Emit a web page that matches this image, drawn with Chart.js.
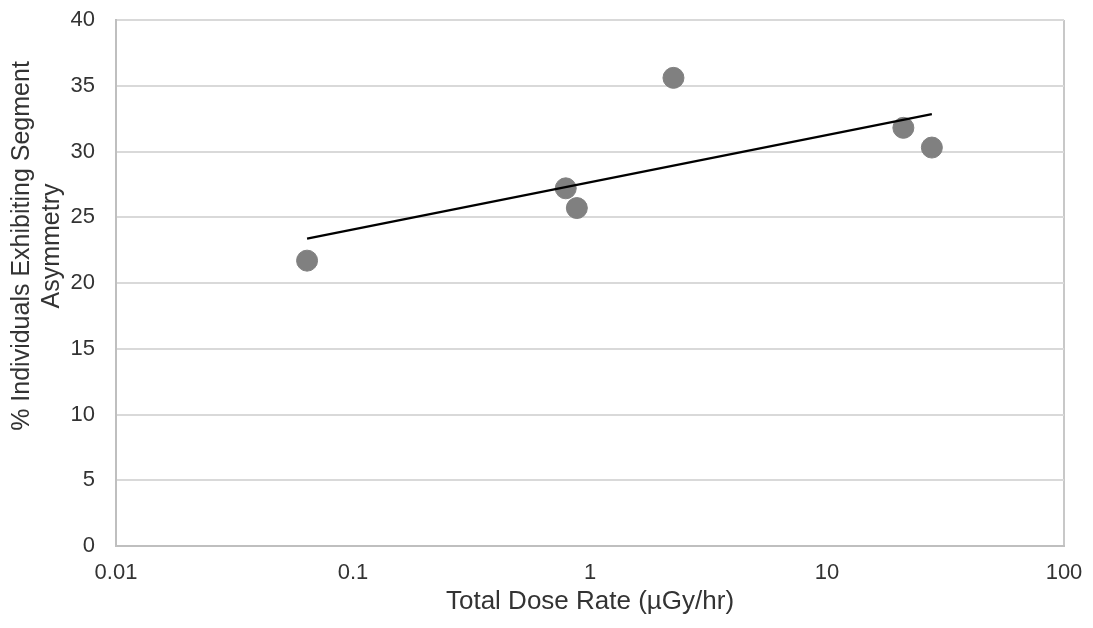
<!DOCTYPE html>
<html>
<head>
<meta charset="utf-8">
<script src="https://cdn.jsdelivr.net/npm/chart.js@4/dist/chart.umd.min.js"></script>
<style>
  html, body { margin: 0; padding: 0; background: #fff; }
  #grafico { display: block; }
</style>
</head>
<body>
<canvas id="grafico" width="1093" height="628"></canvas>
<script>
// Dados
const taxaDose = [0.064, 0.79, 0.88, 2.25, 21.0, 27.7];
const assimetria = [21.7, 27.2, 25.7, 35.6, 31.8, 30.3];
const ticksX = [0.01, 0.1, 1, 10, 100];
const tituloY = ["% Individuals Exhibiting Segment", "Asymmetry"];
const tituloX = "Total Dose Rate (µGy/hr)";

// Linha de tendência logarítmica (mínimos quadrados em ln x)
function ajusteLog(xs, ys) {
    const lx = xs.map(v => Math.log(v));
    const mx = lx.reduce((a, b) => a + b, 0) / lx.length;
    const my = ys.reduce((a, b) => a + b, 0) / ys.length;
    let sxy = 0, sxx = 0;
    lx.forEach((v, i) => { sxy += (v - mx) * (ys[i] - my); sxx += (v - mx) * (v - mx); });
    const a = sxy / sxx;
    const b = my - a * mx;
    return x => a * Math.log(x) + b;
}
const tendencia = ajusteLog(taxaDose, assimetria);
const xMin = Math.min(...taxaDose);
const xMax = Math.max(...taxaDose);
const pontosTendencia = [
    { x: xMin, y: tendencia(xMin) },
    { x: xMax, y: tendencia(xMax) }
];

const fonte = "'Liberation Sans', Arial, sans-serif";
const corTexto = "#333333";

// Título do eixo Y (o Excel o centraliza um pouco acima do centro do gráfico)
const tituloEixoY = {
    id: "tituloEixoY",
    afterDraw(chart) {
        const ctx = chart.ctx;
        ctx.save();
        ctx.fillStyle = corTexto;
        ctx.font = "25px " + fonte;
        ctx.textAlign = "center";
        ctx.textBaseline = "middle";
        const cy = 246;
        const xs = [22, 52];
        tituloY.forEach((linha, i) => {
            ctx.save();
            ctx.translate(xs[i], cy);
            ctx.rotate(-Math.PI / 2);
            ctx.fillText(linha, 0, 0);
            ctx.restore();
        });
        ctx.restore();
    }
};

new Chart(document.getElementById("grafico"), {
    type: "scatter",
    data: {
        datasets: [
            {
                label: "Tendência",
                type: "line",
                data: pontosTendencia,
                borderColor: "#000000",
                borderWidth: 2.2,
                pointRadius: 0,
                fill: false,
                order: 0
            },
            {
                label: "Assimetria",
                data: taxaDose.map((x, i) => ({ x: x, y: assimetria[i] })),
                backgroundColor: "#808080",
                borderColor: "#808080",
                pointRadius: 10.5,
                pointHoverRadius: 10.5,
                order: 1
            }
        ]
    },
    plugins: [tituloEixoY],
    options: {
        responsive: false,
        animation: false,
        layout: { padding: { left: 0, right: 29, top: 20, bottom: 0 } },
        plugins: {
            legend: { display: false },
            tooltip: { enabled: false }
        },
        scales: {
            x: {
                type: "logarithmic",
                min: 0.01,
                max: 100,
                afterBuildTicks: scale => { scale.ticks = ticksX.map(v => ({ value: v })); },
                ticks: {
                    color: corTexto,
                    font: { family: fonte, size: 22 },
                    padding: 14,
                    maxRotation: 0,
                    autoSkip: false,
                    callback: v => String(v)
                },
                grid: {
                    drawTicks: false,
                    color: ctx => (ctx.index === 0 || ctx.index === ticksX.length - 1) ? "#c8c8c8" : "rgba(0,0,0,0)",
                    lineWidth: 2
                },
                border: { color: "#bfbfbf", width: 2 },
                title: {
                    display: true,
                    text: tituloX,
                    color: corTexto,
                    font: { family: fonte, size: 26 },
                    padding: { top: 2, bottom: 11 }
                },
                afterFit: scale => {
                    scale.height = 82;
                    scale.paddingLeft = 0;
                    scale.paddingRight = 0;
                }
            },
            y: {
                min: 0,
                max: 40,
                ticks: {
                    stepSize: 5,
                    color: corTexto,
                    font: { family: fonte, size: 22 },
                    padding: 21
                },
                grid: { drawTicks: false, color: "#d9d9d9", lineWidth: 2 },
                border: { color: "#bfbfbf", width: 2 },
                afterFit: scale => {
                    scale.width = 116;
                    scale.paddingTop = 0;
                    scale.paddingBottom = 0;
                }
            }
        }
    }
});
</script>
</body>
</html>
